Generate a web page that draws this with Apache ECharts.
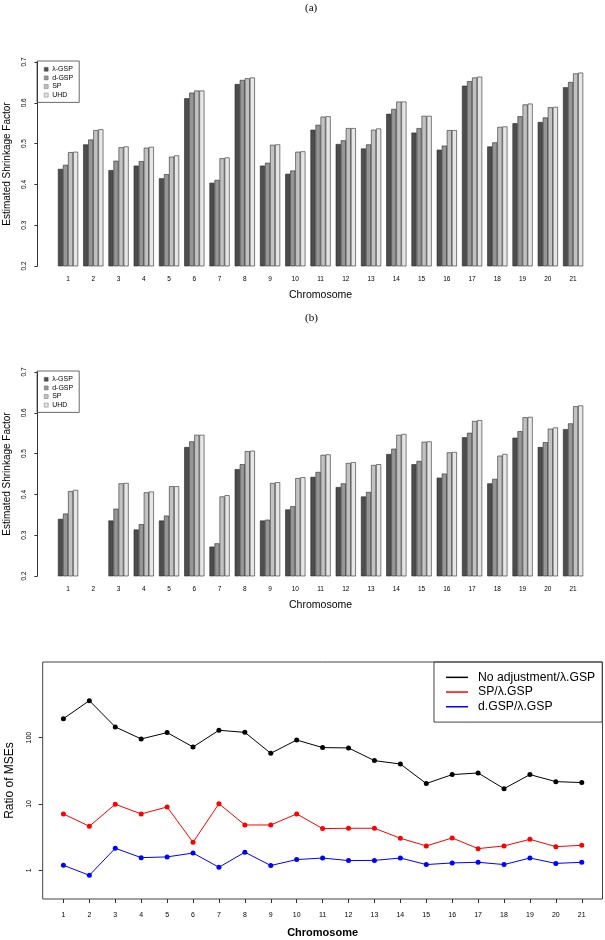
<!DOCTYPE html>
<html>
<head>
<meta charset="utf-8">
<script src="https://cdn.jsdelivr.net/npm/echarts@6/dist/echarts.min.js"></script>
<style>
  html, body { margin: 0; padding: 0; background: #fff; }
  #chart { width: 605px; height: 940px; }
</style>
</head>
<body>
<div id="chart"></div>
<script>
// chromosomes on the x axis of every panel
const chromosomes = ['1','2','3','4','5','6','7','8','9','10','11','12','13','14','15','16','17','18','19','20','21']

// (a) estimated shrinkage factor
const aLambda = [0.438,0.498,0.435,0.446,0.415,0.611,0.404,0.646,0.446,0.426,0.534,0.499,0.488,0.573,0.527,0.485,0.642,0.493,0.550,0.553,0.638]
const aDgsp   = [0.448,0.510,0.458,0.457,0.425,0.625,0.411,0.656,0.453,0.434,0.546,0.508,0.498,0.585,0.538,0.495,0.653,0.503,0.567,0.564,0.651]
const aSp     = [0.479,0.533,0.491,0.490,0.468,0.630,0.464,0.660,0.497,0.480,0.566,0.538,0.534,0.603,0.568,0.533,0.662,0.541,0.596,0.589,0.672]
const aUhd    = [0.480,0.535,0.493,0.492,0.471,0.630,0.466,0.662,0.498,0.481,0.567,0.538,0.537,0.603,0.568,0.533,0.664,0.542,0.598,0.590,0.674]

// (b) estimated shrinkage factor (chromosome 2 has no bars)
const bLambda = [0.340,null,0.336,0.314,0.336,0.516,0.272,0.462,0.336,0.363,0.443,0.418,0.395,0.499,0.474,0.441,0.540,0.427,0.539,0.516,0.560]
const bDgsp   = [0.353,null,0.365,0.327,0.348,0.530,0.280,0.474,0.338,0.371,0.455,0.427,0.406,0.512,0.482,0.451,0.551,0.438,0.555,0.528,0.574]
const bSp     = [0.408,null,0.427,0.405,0.420,0.546,0.395,0.506,0.428,0.440,0.497,0.477,0.472,0.546,0.529,0.503,0.580,0.495,0.589,0.561,0.616]
const bUhd    = [0.411,null,0.428,0.407,0.420,0.546,0.398,0.507,0.430,0.442,0.498,0.479,0.474,0.548,0.530,0.504,0.582,0.499,0.590,0.564,0.618]

// (c) ratio of MSEs (log scale)
const cNoAdj = [193,361,145,95.5,119,72.3,129,120,58,92,70.7,69.9,45,40,20.3,27.7,29.3,17,27.7,21.7,21]
const cSp    = [7.07,4.61,9.9,7.07,9.0,2.64,10.1,4.82,4.82,7.07,4.25,4.3,4.3,3.04,2.33,3.07,2.12,2.33,2.93,2.27,2.38]
const cDgsp  = [1.19,0.84,2.15,1.55,1.59,1.82,1.11,1.87,1.18,1.45,1.53,1.40,1.41,1.53,1.22,1.29,1.32,1.22,1.53,1.27,1.32]

const barNames = ['λ-GSP', 'd-GSP', 'SP', 'UHD']
const barColors = ['#4d4d4d', '#969696', '#c2c2c2', '#e6e6e6']
const lineNames = ['No adjustment/λ.GSP', 'SP/λ.GSP', 'd.GSP/λ.GSP']
const lineColors = ['#000000', '#ff0000', '#0000ff']
const ratioTicks = [1, 10, 100]

const font = 'Liberation Sans, Arial, sans-serif'
const chromNums = chromosomes.map(Number)
const pairs = arr => arr.map((v, i) => [chromNums[i], v])

const mychart = echarts.init(document.getElementById('chart'))

function barAxes(idx, top) {
    return {
        grid: { left: 55.4, width: 530.3, top: top, height: 204, outerBoundsMode: 'none' },
        xAxis: {
            type: 'category',
            gridIndex: idx,
            data: chromosomes,
            axisLine: { show: false },
            axisTick: { show: false },
            axisLabel: { color: '#000', fontSize: 6.5, fontFamily: font, margin: 10, interval: 0 },
            name: 'Chromosome',
            nameLocation: 'middle',
            nameGap: 24,
            nameTextStyle: { color: '#000', fontSize: 10.5, fontFamily: font }
        },
        yAxis: {
            type: 'value',
            gridIndex: idx,
            min: 0.2,
            max: 0.7,
            interval: 0.1,
            offset: 18,
            axisLine: { show: true, lineStyle: { color: '#333', width: 1 } },
            axisTick: { show: true, length: 3, lineStyle: { color: '#333' } },
            axisLabel: { color: '#000', fontSize: 6.5, fontFamily: font, rotate: 90, margin: 10 },
            splitLine: { show: false },
            name: 'Estimated Shrinkage Factor',
            nameLocation: 'middle',
            nameGap: 22,
            nameTextStyle: { color: '#000', fontSize: 10, fontFamily: font }
        }
    }
}

const pa = barAxes(0, 62)
const pb = barAxes(1, 372)

function barSeries(idx, lists) {
    return lists.map((vals, k) => ({
        name: barNames[k],
        type: 'bar',
        xAxisIndex: idx,
        yAxisIndex: idx,
        data: vals,
        barGap: '0%',
        barCategoryGap: '20%',
        itemStyle: { color: barColors[k], borderColor: '#2a2a2a', borderWidth: 0.6 },
        emphasis: { disabled: true }
    }))
}

const barLegend = top => ({
    data: barNames,
    orient: 'vertical',
    left: 37,
    top: top,
    padding: [4, 6, 3, 7],
    itemGap: 0,
    itemWidth: 4,
    itemHeight: 4,
    icon: 'rect',
    itemStyle: { borderWidth: 0.4, borderColor: '#555' },
    borderColor: '#444',
    borderWidth: 0.8,
    textStyle: { color: '#000', fontSize: 7, fontFamily: font, lineHeight: 8.6, padding: [0, 0, 0, -1] }
})

mychart.setOption({
    animation: false,
    backgroundColor: '#fff',
    title: [
        { text: '(a)', left: 305, top: 3, padding: 0, textStyle: { fontFamily: 'Liberation Serif, serif', fontSize: 11, fontWeight: 'normal', color: '#000' } },
        { text: '(b)', left: 305, top: 313, padding: 0, textStyle: { fontFamily: 'Liberation Serif, serif', fontSize: 11, fontWeight: 'normal', color: '#000' } }
    ],
    legend: [
        barLegend(61),
        barLegend(371),
        {
            data: lineNames,
            orient: 'vertical',
            left: 434,
            top: 662,
            padding: [8, 7, 8, 12],
            itemGap: 0,
            itemWidth: 22,
            itemHeight: 1.5,
            icon: 'rect',
            borderColor: '#444',
            borderWidth: 1,
            textStyle: { color: '#000', fontSize: 12.2, fontFamily: font, lineHeight: 14.7, padding: [0, 0, 0, 5] }
        }
    ],
    grid: [
        pa.grid,
        pb.grid,
        { left: 42.7, width: 559.8, top: 662, height: 237, show: true, borderColor: '#444', borderWidth: 1, outerBoundsMode: 'none' }
    ],
    xAxis: [
        pa.xAxis,
        pb.xAxis,
        {
            type: 'value',
            gridIndex: 2,
            min: 0.2,
            max: 21.8,
            axisLine: { show: false },
            axisTick: { show: true, length: 4, customValues: chromNums, lineStyle: { color: '#333' } },
            axisLabel: { color: '#000', fontSize: 7, fontFamily: font, margin: 13, customValues: chromNums },
            splitLine: { show: false },
            name: 'Chromosome',
            nameLocation: 'middle',
            nameGap: 28,
            nameTextStyle: { color: '#000', fontSize: 11, fontWeight: 'bold', fontFamily: font }
        }
    ],
    yAxis: [
        pa.yAxis,
        pb.yAxis,
        {
            type: 'log',
            gridIndex: 2,
            logBase: 10,
            min: 0.369,
            max: 1380,
            axisLine: { show: false },
            axisTick: { show: true, length: 4, customValues: ratioTicks, lineStyle: { color: '#333' } },
            axisLabel: { color: '#000', fontSize: 7, fontFamily: font, rotate: 90, margin: 10, customValues: ratioTicks },
            splitLine: { show: false },
            name: 'Ratio of MSEs',
            nameLocation: 'middle',
            nameGap: 27,
            nameTextStyle: { color: '#000', fontSize: 12, fontFamily: font }
        }
    ],
    series: [
        ...barSeries(0, [aLambda, aDgsp, aSp, aUhd]),
        ...barSeries(1, [bLambda, bDgsp, bSp, bUhd]),
        ...[cNoAdj, cSp, cDgsp].map((vals, k) => ({
            name: lineNames[k],
            type: 'line',
            xAxisIndex: 2,
            yAxisIndex: 2,
            data: pairs(vals),
            symbol: 'circle',
            symbolSize: 5,
            lineStyle: { color: lineColors[k], width: 1 },
            itemStyle: { color: lineColors[k] },
            emphasis: { disabled: true }
        }))
    ]
})
</script>
</body>
</html>
